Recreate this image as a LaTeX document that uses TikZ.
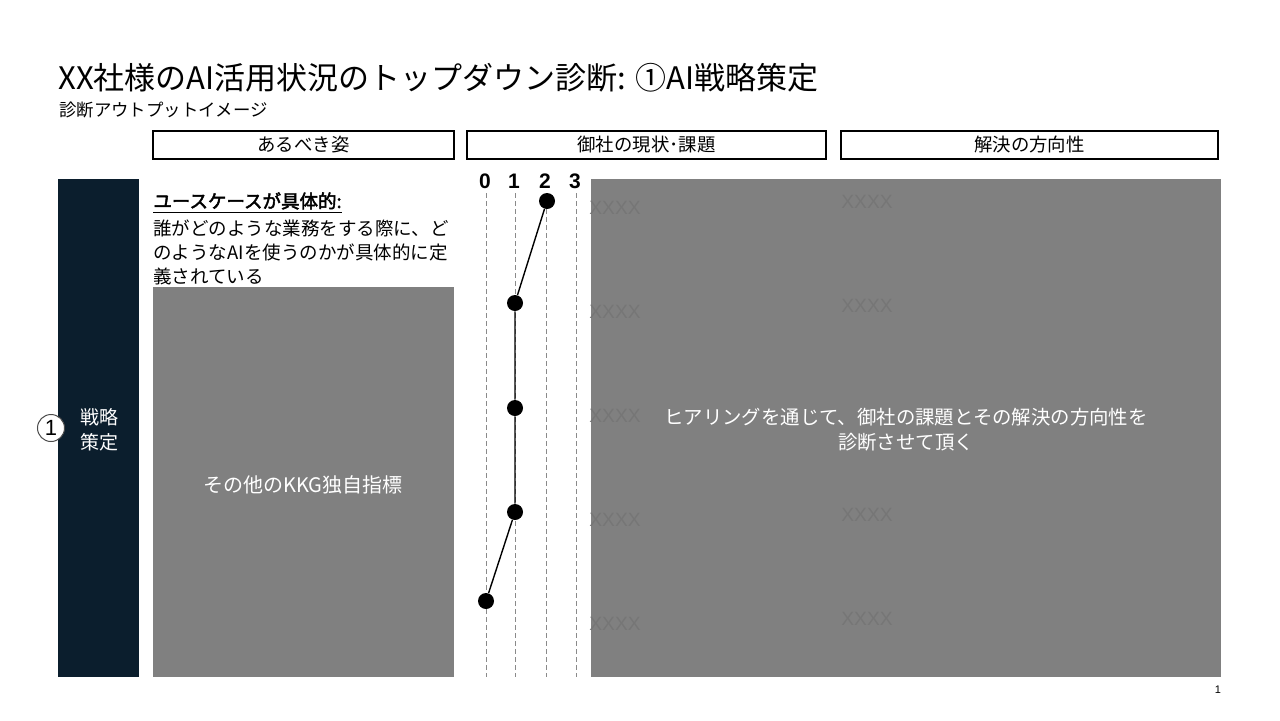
\documentclass[tikz,border=0pt]{standalone}
\usepackage{fontspec}
\setmainfont{Noto Sans CJK JP}[AutoFakeBold=2.5]
\newfontfamily\arialf{Liberation Sans}
\definecolor{navy}{HTML}{0B1E2D}
\definecolor{boxgray}{HTML}{808080}
\definecolor{xgray}{HTML}{767676}
\definecolor{dashgray}{HTML}{8A8A8A}
\tikzset{
  hdrbox/.style={draw=black, line width=0.55pt, inner sep=0pt, outer sep=0pt, minimum height=14pt, font=\fontsize{9.2}{11}\selectfont},
  panel/.style={inner sep=0pt, outer sep=0pt, draw=none},
  whitetxt/.style={text=white, align=center, inner sep=0pt},
  bodytxt/.style={anchor=base west, inner sep=0pt, font=\fontsize{9.25}{12}\selectfont},
  scalenum/.style={inner sep=0pt, font=\arialf\bfseries\fontsize{10.5}{12}\selectfont},
  scaleline/.style={draw=dashgray, line width=0.5pt, dash pattern=on 2.5pt off 1.5pt},
  dotnode/.style={circle, fill=black, inner sep=0pt, minimum size=8pt},
  xxxx/.style={text=xgray, inner sep=0pt, anchor=west, font=\arialf\fontsize{9.6}{11}\selectfont}
}
\begin{document}
\begin{tikzpicture}[x=0.5pt,y=-0.5pt]
\useasboundingbox[fill=white] (0,0) rectangle (1280,720);

% title
\node[anchor=base west, inner sep=0pt, font=\fontsize{15.5}{18}\selectfont] (title) at (58,89) {XX社様のAI活用状況のトップダウン診断: ①AI戦略策定};
\node[anchor=base west, inner sep=0pt, font=\fontsize{8.7}{10}\selectfont] (subtitle) at (59,116) {診断アウトプットイメージ};

% headers
\node[hdrbox, minimum width=150.5pt] (h1) at (303.5,145) {あるべき姿};
\node[hdrbox, minimum width=179.5pt] (h2) at (646.5,145) {御社の現状･課題};
\node[hdrbox, minimum width=188.5pt] (h3) at (1029.5,145) {解決の方向性};

% navy column
\node[panel, fill=navy, minimum width=40.5pt, minimum height=249pt] (col) at (98.5,428) {};
\node[whitetxt, font=\fontsize{9.5}{12.5}\selectfont] (coltxt) at (99,430) {戦略\\策定};
\node[circle, draw=black!70, fill=white, line width=0.5pt, minimum size=13.5pt, inner sep=0pt, font=\arialf\fontsize{11}{12}\selectfont] (num1) at (51,428) {1};

% left text
\node[bodytxt, font=\bfseries\fontsize{9.25}{12}\selectfont] (head) at (153,208) {\underline{ユースケースが具体的:}};
\node[bodytxt] (l1) at (153,235) {誰がどのような業務をする際に、ど};
\node[bodytxt] (l2) at (153,259) {のようなAIを使うのかが具体的に定};
\node[bodytxt] (l3) at (153,283) {義されている};

% left gray box
\node[panel, fill=boxgray, minimum width=150.5pt, minimum height=195pt] (lbox) at (303.5,482) {};
\node[whitetxt, font=\fontsize{10}{12}\selectfont] (ltxt) at (303,485) {その他のKKG独自指標};

% scale
\node[scalenum] (n0) at (485,181) {0};
\node[scalenum] (n1) at (514,181) {1};
\node[scalenum] (n2) at (545,181) {2};
\node[scalenum] (n3) at (575,181) {3};
\coordinate (t0) at (486,193); \coordinate (b0) at (486,677);
\coordinate (t1) at (515,193); \coordinate (b1) at (515,677);
\coordinate (t2) at (546,193); \coordinate (b2) at (546,677);
\coordinate (t3) at (576,193); \coordinate (b3) at (576,677);
\draw[scaleline] (t0) -- (b0);
\draw[scaleline] (t1) -- (b1);
\draw[scaleline] (t2) -- (b2);
\draw[scaleline] (t3) -- (b3);

% big gray box
\node[panel, fill=boxgray, minimum width=315pt, minimum height=249pt] (rbox) at (906,428) {};
\foreach \yy/\nm in {208/a,312/b,416/c,520/d,624/e}{
  \node[xxxx] (xl\nm) at (589,\yy) {XXXX};
}
\foreach \yy/\nm in {202/a,306/b,515/d,619/e}{
  \node[xxxx] (xr\nm) at (841,\yy) {XXXX};
}
\node[whitetxt, font=\fontsize{9.7}{12.5}\selectfont] (rtxt) at (906,430) {ヒアリングを通じて、御社の課題とその解決の方向性を\\診断させて頂く};

% dots and connectors
\node[dotnode] (d1) at (547,201) {};
\node[dotnode] (d2) at (515,303) {};
\node[dotnode] (d3) at (515,408) {};
\node[dotnode] (d4) at (515,512) {};
\node[dotnode] (d5) at (486,601) {};
\draw[line width=0.7pt] (d1) -- (d2) -- (d3) -- (d4) -- (d5);

% page number
\node[inner sep=0pt, font=\arialf\fontsize{5.5}{6}\selectfont] (pg) at (1218,690) {1};
\end{tikzpicture}
\end{document}
